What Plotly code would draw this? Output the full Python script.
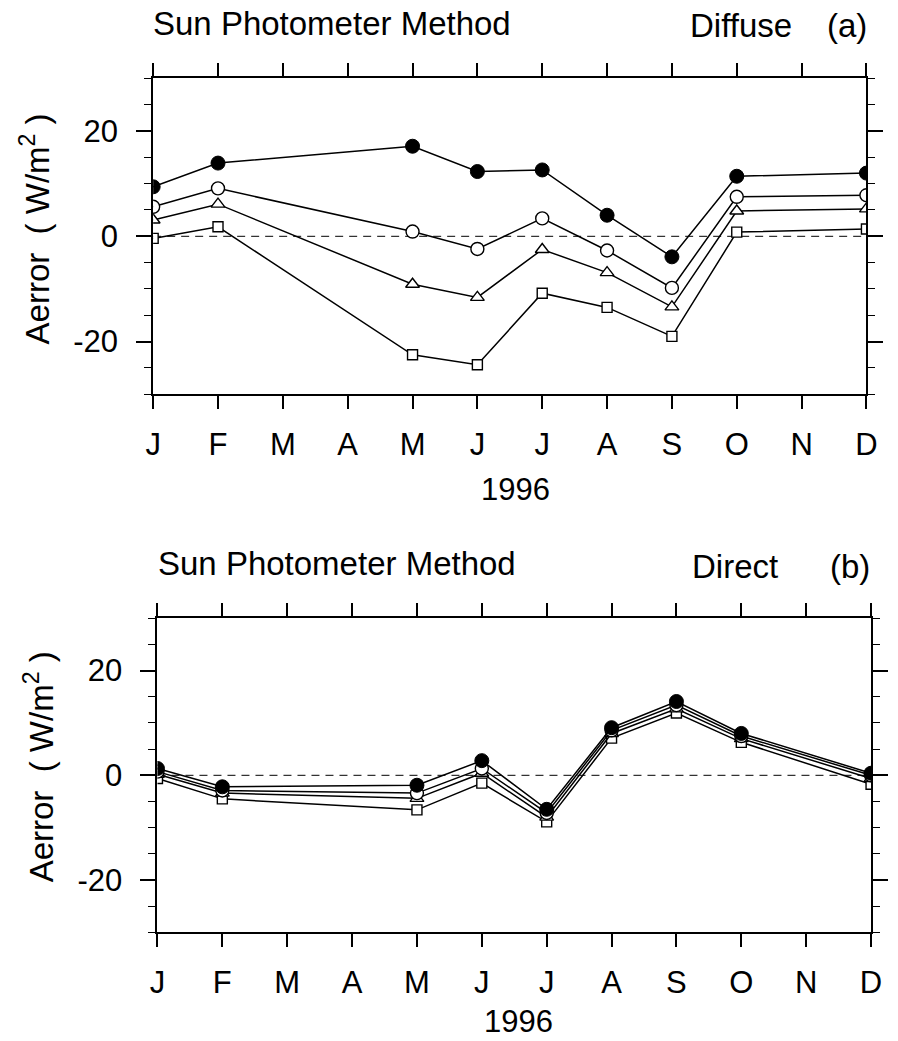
import plotly.graph_objects as go

# ---------------- data ----------------
month_labels = ["J", "F", "M", "A", "M", "J", "J", "A", "S", "O", "N", "D"]
month_pos = list(range(1, 13))
obs_months = [1, 2, 5, 6, 7, 8, 9, 10, 12]  # J F M(ay) J J A S O D

# (a) Diffuse
diff_filled = [9.4, 13.9, 17.1, 12.3, 12.6, 4.0, -3.9, 11.4, 12.0]
diff_open = [5.6, 9.1, 0.9, -2.4, 3.4, -2.7, -9.8, 7.5, 7.8]
diff_tri = [3.1, 6.1, -9.1, -11.6, -2.5, -6.9, -13.4, 4.8, 5.2]
diff_sq = [-0.4, 1.8, -22.5, -24.4, -10.8, -13.5, -19.0, 0.8, 1.4]

# (b) Direct
dir_filled = [1.3, -2.2, -1.9, 2.8, -6.5, 9.1, 14.1, 8.0, 0.4]
dir_open = [0.7, -2.9, -3.4, 1.3, -7.2, 8.6, 13.4, 7.5, 0.0]
dir_tri = [0.2, -3.4, -4.4, 0.4, -8.0, 8.0, 12.7, 7.0, -0.6]
dir_sq = [-0.6, -4.5, -6.6, -1.5, -8.9, 7.1, 11.9, 6.3, -1.7]

y_tickvals = [-20, 0, 20]
y_ticktext = ["-20", "0", "20"]

# ---------------- figure ----------------
W, H = 898, 1041
FONT = "Liberation Sans, Arial, Helvetica, sans-serif"

fig = go.Figure()

styles = [
    ("square", dict(symbol="square", size=10, color="white", line=dict(color="black", width=1.4))),
    ("triangle", dict(symbol="triangle-up", size=12, color="white", line=dict(color="black", width=1.4))),
    ("open circle", dict(symbol="circle", size=13, color="white", line=dict(color="black", width=1.4))),
    ("filled circle", dict(symbol="circle", size=14, color="black", line=dict(color="black", width=1))),
]

panels = [
    ("x", "y", [diff_sq, diff_tri, diff_open, diff_filled]),
    ("x2", "y2", [dir_sq, dir_tri, dir_open, dir_filled]),
]

for xa, ya, series in panels:
    for (name, mk), vals in zip(styles, series):
        fig.add_trace(go.Scatter(
            x=obs_months, y=vals, mode="lines+markers", name=name,
            line=dict(color="black", width=1.5), marker=mk,
            xaxis=xa, yaxis=ya, showlegend=False, cliponaxis=True,
        ))

def px_x(p):
    return p / W

def px_y(p):
    return 1 - p / H

xdom_a = [px_x(148.3), px_x(877.0)]
ydom_a = [px_y(394.3), px_y(78.3)]
xdom_b = [px_x(152.7), px_x(881.7)]
ydom_b = [px_y(932.3), px_y(618.3)]

xcommon = dict(
    range=[1, 12], tickmode="array", tickvals=month_pos, ticktext=month_labels,
    ticks="outside", ticklen=13, tickwidth=1.5, tickcolor="black",
    showline=True, linecolor="black", linewidth=2, mirror="ticks",
    showgrid=False, zeroline=False,
    tickfont=dict(family=FONT, size=31, color="black"),
    ticklabelstandoff=8,
)
ycommon = dict(
    range=[-30, 30], tickmode="array", tickvals=y_tickvals, ticktext=y_ticktext,
    ticks="outside", ticklen=15, tickwidth=1.5, tickcolor="black",
    minor=dict(dtick=5, tick0=0, ticks="outside", ticklen=7, tickwidth=1.2, tickcolor="black"),
    showline=True, linecolor="black", linewidth=2, mirror="ticks",
    showgrid=False, zeroline=False,
    tickfont=dict(family=FONT, size=31, color="black"),
    ticklabelstandoff=12,
)

fig.update_layout(
    width=W, height=H,
    margin=dict(l=0, r=0, t=0, b=0),
    paper_bgcolor="white", plot_bgcolor="white",
    font=dict(family=FONT, color="black"),
    xaxis=dict(domain=xdom_a, anchor="y", **xcommon),
    yaxis=dict(domain=ydom_a, anchor="x", **ycommon),
    xaxis2=dict(domain=xdom_b, anchor="y2", **xcommon),
    yaxis2=dict(domain=ydom_b, anchor="x2", **ycommon),
)

# dashed zero reference lines
for xr, yr in [("x domain", "y"), ("x2 domain", "y2")]:
    fig.add_shape(type="line", xref=xr, yref=yr, x0=0, x1=1, y0=0, y1=0,
                  line=dict(color="black", width=1, dash="8px,6px"), layer="below")

def ann(text, x, y, size, xanchor="left", yanchor="middle", angle=0):
    fig.add_annotation(text=text, x=px_x(x), y=px_y(y), xref="paper", yref="paper",
                       xanchor=xanchor, yanchor=yanchor, showarrow=False, textangle=angle,
                       font=dict(family=FONT, size=size, color="black"))

# titles
ann("Sun Photometer Method", 146, 23, 33)
ann("Diffuse", 695, 26, 33)
ann("(a)", 835, 26, 33)
ann("Sun Photometer Method", 151, 563, 33)
ann("Direct", 697, 566, 33)
ann("(b)", 838, 566, 33)

# x titles
ann("1996", 518, 489, 31, xanchor="center")
ann("1996", 522, 1041, 31, xanchor="center", yanchor="bottom")

# y titles
ann("Aerror  ( W/m<sup>2</sup> )", 28, 229, 33, xanchor="center", angle=-90)
ann("Aerror  ( W/m<sup>2</sup> )", 32, 767, 33, xanchor="center", angle=-90)

fig.write_html("out.html")
